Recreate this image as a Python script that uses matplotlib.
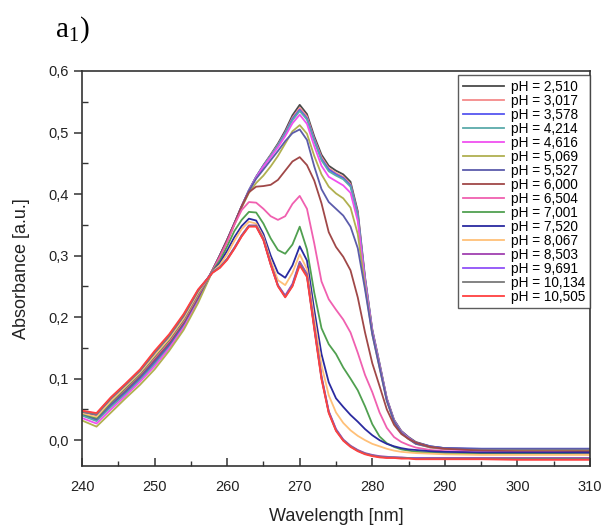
import matplotlib
matplotlib.use("Agg")
import matplotlib.pyplot as plt
from matplotlib.ticker import MultipleLocator, FuncFormatter

plt.rcParams['font.family'] = ['Liberation Sans', 'DejaVu Sans']
plt.rcParams['mathtext.fontset'] = 'custom'
plt.rcParams['mathtext.rm'] = 'Liberation Serif'

# wavelength grid (nm)
wl = [240, 242, 244, 246, 248, 250, 252, 254, 256, 258,
      259, 260, 261, 262, 263, 264, 265, 266, 267, 268, 269, 270,
      271, 272, 273, 274, 275, 276, 277, 278, 279, 280, 281, 282,
      283, 284, 285, 286, 288, 290, 295, 300, 305, 310]

ph_labels = ["2,510", "3,017", "3,578", "4,214", "4,616", "5,069", "5,527", "6,000",
             "6,504", "7,001", "7,520", "8,067", "8,503", "9,691", "10,134", "10,505"]

colors = ["#4a4a4a", "#f58a8a", "#5656f0", "#5aaaaa", "#f050f0", "#b0b050", "#5c5cab", "#a04848",
          "#f060b0", "#50a050", "#2a2aa0", "#ffc078", "#a040b0", "#9050f8", "#7a7a7a", "#ff4040"]

abs_2510 = [0.045, 0.036, 0.060, 0.080, 0.103, 0.128, 0.155, 0.188, 0.230, 0.276,
            0.300, 0.325, 0.352, 0.380, 0.406, 0.428, 0.447, 0.464, 0.482, 0.503, 0.528, 0.545,
            0.530, 0.494, 0.464, 0.446, 0.438, 0.432, 0.420, 0.372, 0.265, 0.180, 0.125, 0.068,
            0.033, 0.015, 0.005, -0.003, -0.010, -0.013, -0.015, -0.015, -0.016, -0.016]
abs_3017 = [0.044, 0.035, 0.058, 0.079, 0.102, 0.127, 0.154, 0.187, 0.229, 0.276,
            0.300, 0.325, 0.352, 0.380, 0.406, 0.428, 0.446, 0.463, 0.480, 0.500, 0.524, 0.540,
            0.526, 0.490, 0.460, 0.442, 0.434, 0.428, 0.416, 0.368, 0.262, 0.178, 0.123, 0.067,
            0.032, 0.014, 0.004, -0.004, -0.011, -0.014, -0.016, -0.017, -0.017, -0.017]
abs_3578 = [0.042, 0.033, 0.056, 0.077, 0.100, 0.125, 0.152, 0.186, 0.228, 0.276,
            0.300, 0.325, 0.352, 0.380, 0.406, 0.428, 0.446, 0.462, 0.479, 0.499, 0.522, 0.537,
            0.523, 0.488, 0.457, 0.440, 0.432, 0.426, 0.414, 0.366, 0.262, 0.178, 0.123, 0.067,
            0.032, 0.014, 0.004, -0.004, -0.010, -0.013, -0.014, -0.014, -0.014, -0.014]
abs_4214 = [0.040, 0.031, 0.054, 0.075, 0.098, 0.123, 0.151, 0.185, 0.228, 0.276,
            0.300, 0.325, 0.352, 0.380, 0.406, 0.428, 0.446, 0.462, 0.479, 0.498, 0.520, 0.535,
            0.521, 0.486, 0.455, 0.437, 0.430, 0.424, 0.412, 0.364, 0.260, 0.177, 0.122, 0.066,
            0.031, 0.013, 0.003, -0.005, -0.011, -0.014, -0.016, -0.016, -0.016, -0.016]
abs_4616 = [0.036, 0.027, 0.050, 0.072, 0.095, 0.120, 0.149, 0.183, 0.227, 0.276,
            0.300, 0.325, 0.352, 0.380, 0.405, 0.427, 0.445, 0.460, 0.476, 0.494, 0.515, 0.529,
            0.514, 0.478, 0.446, 0.428, 0.421, 0.414, 0.402, 0.356, 0.258, 0.176, 0.121, 0.066,
            0.031, 0.013, 0.003, -0.005, -0.012, -0.015, -0.017, -0.017, -0.017, -0.018]
abs_5069 = [0.032, 0.022, 0.045, 0.068, 0.090, 0.115, 0.145, 0.179, 0.223, 0.275,
            0.300, 0.325, 0.351, 0.378, 0.402, 0.418, 0.430, 0.445, 0.462, 0.482, 0.502, 0.512,
            0.498, 0.462, 0.432, 0.412, 0.401, 0.393, 0.378, 0.335, 0.250, 0.172, 0.118, 0.064,
            0.030, 0.012, 0.002, -0.006, -0.012, -0.014, -0.015, -0.016, -0.016, -0.016]
abs_5527 = [0.043, 0.034, 0.058, 0.079, 0.102, 0.128, 0.155, 0.189, 0.231, 0.277,
            0.301, 0.326, 0.353, 0.380, 0.405, 0.425, 0.440, 0.455, 0.470, 0.486, 0.499, 0.505,
            0.488, 0.445, 0.408, 0.387, 0.376, 0.365, 0.347, 0.312, 0.245, 0.172, 0.118, 0.064,
            0.030, 0.012, 0.002, -0.006, -0.011, -0.013, -0.014, -0.014, -0.014, -0.014]
abs_6000 = [0.045, 0.038, 0.062, 0.083, 0.106, 0.132, 0.159, 0.192, 0.234, 0.277,
            0.300, 0.325, 0.352, 0.380, 0.403, 0.412, 0.413, 0.415, 0.423, 0.438, 0.453, 0.460,
            0.447, 0.422, 0.385, 0.338, 0.314, 0.298, 0.276, 0.232, 0.175, 0.125, 0.088, 0.050,
            0.025, 0.010, 0.002, -0.004, -0.011, -0.014, -0.017, -0.018, -0.018, -0.018]
abs_6504 = [0.044, 0.037, 0.062, 0.084, 0.107, 0.134, 0.161, 0.194, 0.236, 0.276,
            0.298, 0.322, 0.350, 0.374, 0.387, 0.386, 0.376, 0.364, 0.358, 0.364, 0.384, 0.397,
            0.376, 0.320, 0.258, 0.229, 0.212, 0.196, 0.175, 0.142, 0.106, 0.078, 0.045, 0.020,
            0.005, -0.003, -0.008, -0.012, -0.016, -0.018, -0.020, -0.020, -0.020, -0.021]
abs_7001 = [0.043, 0.036, 0.062, 0.085, 0.108, 0.136, 0.163, 0.196, 0.238, 0.275,
            0.292, 0.315, 0.340, 0.358, 0.371, 0.370, 0.352, 0.328, 0.309, 0.303, 0.318, 0.347,
            0.310, 0.240, 0.182, 0.156, 0.140, 0.118, 0.100, 0.081, 0.055, 0.026, 0.006, -0.005,
            -0.011, -0.015, -0.017, -0.019, -0.020, -0.021, -0.022, -0.022, -0.022, -0.023]
abs_7520 = [0.046, 0.041, 0.067, 0.089, 0.112, 0.140, 0.167, 0.200, 0.241, 0.274,
            0.288, 0.308, 0.330, 0.348, 0.360, 0.357, 0.335, 0.300, 0.272, 0.264, 0.284, 0.315,
            0.292, 0.212, 0.140, 0.094, 0.068, 0.054, 0.041, 0.030, 0.018, 0.008, 0.000, -0.006,
            -0.010, -0.013, -0.015, -0.016, -0.018, -0.019, -0.020, -0.020, -0.020, -0.020]
abs_8067 = [0.044, 0.038, 0.064, 0.087, 0.110, 0.138, 0.165, 0.198, 0.240, 0.274,
            0.285, 0.302, 0.324, 0.343, 0.355, 0.352, 0.330, 0.292, 0.260, 0.252, 0.272, 0.302,
            0.278, 0.198, 0.122, 0.073, 0.045, 0.028, 0.016, 0.007, 0.000, -0.006, -0.010, -0.014,
            -0.017, -0.019, -0.020, -0.021, -0.022, -0.023, -0.024, -0.024, -0.024, -0.024]
abs_8503 = [0.047, 0.043, 0.069, 0.091, 0.114, 0.143, 0.170, 0.203, 0.244, 0.273,
            0.281, 0.295, 0.313, 0.333, 0.349, 0.349, 0.327, 0.287, 0.252, 0.235, 0.254, 0.290,
            0.270, 0.186, 0.104, 0.047, 0.018, 0.001, -0.009, -0.016, -0.021, -0.024, -0.026, -0.027,
            -0.028, -0.028, -0.029, -0.029, -0.029, -0.029, -0.029, -0.029, -0.029, -0.029]
abs_9691 = [0.046, 0.042, 0.068, 0.090, 0.113, 0.142, 0.169, 0.202, 0.243, 0.273,
            0.281, 0.294, 0.312, 0.332, 0.348, 0.348, 0.326, 0.286, 0.251, 0.234, 0.252, 0.288,
            0.268, 0.184, 0.102, 0.046, 0.017, 0.000, -0.010, -0.017, -0.022, -0.025, -0.027, -0.028,
            -0.028, -0.029, -0.029, -0.029, -0.030, -0.030, -0.030, -0.030, -0.030, -0.030]
abs_10134 = [0.046, 0.042, 0.068, 0.090, 0.113, 0.142, 0.169, 0.202, 0.243, 0.273,
             0.281, 0.294, 0.312, 0.332, 0.348, 0.348, 0.326, 0.286, 0.251, 0.233, 0.251, 0.287,
             0.267, 0.183, 0.101, 0.045, 0.016, 0.000, -0.010, -0.017, -0.022, -0.025, -0.027, -0.028,
             -0.028, -0.029, -0.029, -0.030, -0.030, -0.030, -0.030, -0.030, -0.030, -0.030]
abs_10505 = [0.048, 0.044, 0.070, 0.092, 0.115, 0.145, 0.172, 0.205, 0.245, 0.272,
             0.280, 0.293, 0.311, 0.331, 0.347, 0.347, 0.325, 0.285, 0.250, 0.232, 0.250, 0.284,
             0.265, 0.181, 0.099, 0.044, 0.015, -0.001, -0.011, -0.018, -0.023, -0.026, -0.028, -0.029,
             -0.029, -0.030, -0.030, -0.031, -0.031, -0.031, -0.031, -0.032, -0.032, -0.032]

spectra = [abs_2510, abs_3017, abs_3578, abs_4214, abs_4616, abs_5069, abs_5527, abs_6000,
           abs_6504, abs_7001, abs_7520, abs_8067, abs_8503, abs_9691, abs_10134, abs_10505]

fig = plt.figure(figsize=(6.07, 5.31), dpi=100)
ax = fig.add_axes([82 / 607, 1 - 466 / 531, (590 - 82) / 607, (466 - 71) / 531])

for ph, col, ys in zip(ph_labels, colors, spectra):
    ax.plot(wl, ys, color=col, lw=1.3, label="pH = " + ph)

ax.set_xlim(240, 310)
ax.set_ylim(-0.042, 0.6)
ax.xaxis.set_major_locator(MultipleLocator(10))
ax.xaxis.set_minor_locator(MultipleLocator(5))
ax.yaxis.set_major_locator(MultipleLocator(0.1))
ax.yaxis.set_minor_locator(MultipleLocator(0.05))
ax.yaxis.set_major_formatter(FuncFormatter(lambda v, p: f"{v:.1f}".replace(".", ",").replace("-0,0", "0,0")))

for s in ax.spines.values():
    s.set_color("#333333")
    s.set_linewidth(1.2)
ax.tick_params(axis="x", which="major", direction="in", length=6, width=1.1, color="#333333",
               labelsize=10.5, labelcolor="#222222", pad=10)
ax.tick_params(axis="x", which="minor", direction="in", length=3.5, width=1.0, color="#333333")
ax.tick_params(axis="y", which="major", direction="out", length=6, width=1.1, color="#333333",
               labelsize=10.5, labelcolor="#222222")
ax.tick_params(axis="y", which="minor", direction="in", length=4, width=1.0, color="#333333")

ax.set_xlabel("Wavelength [nm]", fontsize=13, color="#222222", labelpad=10)
ax.set_ylabel("Absorbance [a.u.]", fontsize=13, color="#222222", labelpad=13)

leg = ax.legend(loc="upper right", bbox_to_anchor=(1.0, 0.99), borderaxespad=0, fontsize=9.8,
                labelspacing=0.0, handlelength=3.0, handletextpad=0.5, borderpad=0.35,
                fancybox=False, frameon=True)
leg.get_frame().set_edgecolor("#333333")
leg.get_frame().set_linewidth(1.0)

fig.text(55 / 607, 1 - 30 / 531, r"a$_\mathrm{1}$)", fontsize=21, family="Liberation Serif",
         va="center", ha="left")

fig.savefig("out.png", dpi=100)
